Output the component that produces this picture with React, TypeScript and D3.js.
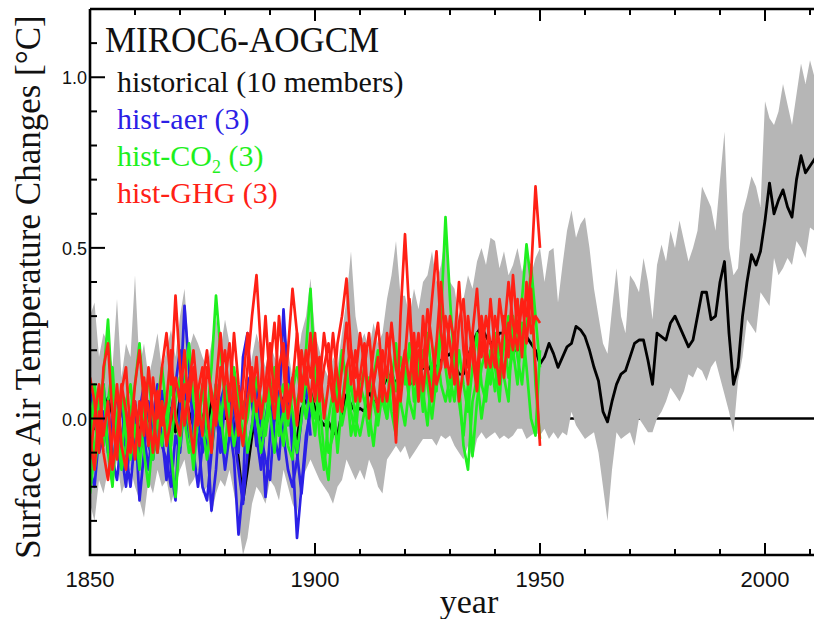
import React from 'react';
import * as d3 from 'd3';

// historical ensemble mean, 1850-2014
const histStart = 1850;
const histMean = [
  0.02, -0.03, 0.05, 0.00, 0.06, 0.01, -0.04, 0.03, 0.00, -0.02,
  0.04, -0.05, 0.02, 0.00, -0.03, 0.05, 0.01, -0.02, 0.03, -0.04,
  0.06, 0.08, 0.02, -0.02, 0.04, 0.00, -0.03, 0.05, 0.07, 0.02,
  0.00, 0.04, -0.02, -0.12, -0.24, -0.15, -0.05, 0.02, 0.00, -0.03,
  0.04, 0.01, -0.02, 0.06, 0.02, -0.04, -0.06, 0.03, 0.05, 0.08,
  0.03, 0.00, -0.02, -0.01, -0.04, -0.05, 0.02, 0.07, 0.04, 0.02,
  0.03, 0.02, 0.08, 0.05, 0.05, 0.09, 0.12, 0.13, 0.10, 0.12,
  0.12, 0.10, 0.11, 0.13, 0.15, 0.14, 0.16, 0.15, 0.17, 0.18,
  0.19, 0.16, 0.13, 0.13, 0.18, 0.22, 0.25, 0.27, 0.24, 0.22,
  0.23, 0.25, 0.25, 0.22, 0.20, 0.20, 0.22, 0.24, 0.22, 0.20,
  0.16, 0.18, 0.22, 0.19, 0.15, 0.18, 0.21, 0.22, 0.27, 0.26,
  0.24, 0.20, 0.15, 0.11, 0.02, -0.01, 0.05, 0.10, 0.13, 0.14,
  0.18, 0.22, 0.23, 0.23, 0.17, 0.10, 0.25, 0.24, 0.23, 0.28,
  0.30, 0.27, 0.24, 0.21, 0.23, 0.30, 0.37, 0.37, 0.29, 0.30,
  0.40, 0.46, 0.25, 0.10, 0.15, 0.30, 0.40, 0.48, 0.45, 0.49,
  0.58, 0.69, 0.60, 0.64, 0.67, 0.62, 0.59, 0.70, 0.77, 0.72,
  0.74, 0.76, 0.78, 0.80, 0.82,
];
// member spread (max / min)
const histMax = [
  0.30, 0.34, 0.18, 0.25, 0.22, 0.15, 0.35, 0.12, 0.22, 0.18,
  0.42, 0.15, 0.22, 0.12, 0.18, 0.25, 0.14, 0.20, 0.26, 0.18,
  0.30, 0.38, 0.20, 0.25, 0.22, 0.18, 0.15, 0.22, 0.30, 0.20,
  0.29, 0.22, 0.15, 0.10, 0.02, 0.10, 0.18, 0.25, 0.20, 0.15,
  0.22, 0.18, 0.15, 0.28, 0.20, 0.12, 0.15, 0.25, 0.30, 0.41,
  0.25, 0.20, 0.15, 0.12, 0.18, 0.15, 0.25, 0.35, 0.49, 0.30,
  0.22, 0.25, 0.20, 0.28, 0.22, 0.25, 0.35, 0.42, 0.52, 0.36,
  0.36, 0.30, 0.38, 0.32, 0.40, 0.42, 0.49, 0.40, 0.45, 0.54,
  0.40, 0.38, 0.30, 0.35, 0.42, 0.38, 0.46, 0.50, 0.45, 0.53,
  0.52, 0.44, 0.49, 0.42, 0.45, 0.50, 0.43, 0.48, 0.42, 0.47,
  0.50, 0.40, 0.49, 0.50, 0.34, 0.45, 0.55, 0.61, 0.53, 0.57,
  0.59, 0.50, 0.38, 0.30, 0.22, 0.19, 0.32, 0.44, 0.30, 0.25,
  0.42, 0.40, 0.37, 0.47, 0.40, 0.29, 0.45, 0.51, 0.46, 0.55,
  0.50, 0.58, 0.52, 0.46, 0.50, 0.55, 0.68, 0.65, 0.62, 0.55,
  0.70, 0.84, 0.50, 0.42, 0.44, 0.60, 0.65, 0.71, 0.68, 0.62,
  0.93, 0.88, 0.86, 0.90, 0.98, 0.92, 0.86, 0.95, 1.04, 0.98,
  1.05, 1.00, 1.03, 1.06, 1.08,
];
const histMin = [
  -0.25, -0.30, -0.18, -0.22, -0.15, -0.20, -0.12, -0.22, -0.18, -0.15,
  -0.20, -0.24, -0.29, -0.18, -0.22, -0.15, -0.20, -0.18, -0.25, -0.20,
  -0.15, -0.12, -0.20, -0.18, -0.15, -0.22, -0.20, -0.28, -0.22, -0.18,
  -0.20, -0.15, -0.22, -0.30, -0.40, -0.35, -0.25, -0.20, -0.22, -0.25,
  -0.18, -0.20, -0.24, -0.15, -0.20, -0.25, -0.28, -0.18, -0.15, -0.12,
  -0.15, -0.18, -0.20, -0.22, -0.25, -0.20, -0.18, -0.12, -0.15, -0.18,
  -0.15, -0.18, -0.12, -0.15, -0.20, -0.22, -0.12, -0.10, -0.08, -0.10,
  -0.08, -0.12, -0.10, -0.08, -0.06, -0.06, -0.06, -0.08, -0.05, -0.06,
  -0.05, -0.08, -0.10, -0.12, -0.08, -0.12, -0.06, -0.04, -0.06, -0.05,
  -0.04, -0.06, -0.05, -0.06, -0.05, -0.03, -0.03, -0.06, -0.05, -0.04,
  -0.05, -0.03, -0.06, -0.04, -0.06, -0.04, -0.05, 0.02, -0.02, -0.04,
  -0.06, -0.05, -0.04, -0.10, -0.20, -0.30, -0.15, -0.04, -0.06, -0.05,
  -0.04, -0.08, 0.00, -0.02, -0.04, -0.04, 0.00, 0.02, 0.05, 0.09,
  0.07, 0.05, 0.08, 0.13, 0.12, 0.15, 0.14, 0.11, 0.15, 0.17,
  0.12, 0.07, 0.02, -0.04, 0.11, 0.18, 0.29, 0.27, 0.25, 0.37,
  0.35, 0.33, 0.47, 0.42, 0.44, 0.47, 0.45, 0.52, 0.50, 0.47,
  0.56, 0.55, 0.58, 0.60, 0.62,
];

// single-forcing members, all start in 1850
const aerMembers = [
  [0.08, 0.02, -0.10, -0.05, 0.05, -0.12, -0.18, -0.05, 0.02, -0.08,
   0.00, -0.24, -0.10, 0.05, -0.02, -0.10, 0.08, 0.02, -0.15, -0.24,
   0.05, 0.33, 0.15, -0.05, 0.00, -0.10, -0.05, -0.27, -0.15, 0.05,
   0.10, -0.02, -0.12, -0.34, -0.20, 0.12, 0.05, -0.08, 0.00, -0.23,
   -0.05, 0.10, 0.02, 0.32, 0.10, -0.10, -0.35, -0.20, -0.05, 0.02],
  [-0.05, -0.12, 0.02, 0.10, -0.08, -0.15, -0.02, 0.05, -0.10, -0.20,
   -0.05, 0.02, 0.10, -0.08, -0.12, 0.00, -0.05, -0.18, 0.02, 0.10,
   0.20, 0.05, -0.05, -0.10, -0.20, -0.08, 0.02, -0.05, 0.10, -0.02,
   -0.15, -0.05, 0.05, -0.10, 0.18, 0.25, 0.05, -0.05, -0.15, 0.00,
   0.08, -0.05, -0.12, 0.05, 0.15, -0.05, -0.10, -0.22, -0.08, 0.05],
  [-0.15, -0.20, -0.05, 0.02, -0.10, 0.00, 0.08, -0.10, -0.20, -0.05,
   0.05, -0.10, -0.05, -0.15, 0.00, 0.10, -0.08, -0.12, -0.20, -0.05,
   -0.10, 0.05, 0.12, 0.00, -0.05, -0.20, -0.24, -0.10, 0.02, -0.10,
   0.05, 0.10, -0.05, -0.15, -0.25, -0.10, -0.02, 0.10, -0.05, -0.12,
   -0.18, 0.00, 0.08, -0.05, -0.15, -0.20, -0.12, 0.00, 0.10, -0.05],
];
const co2Members = [
  [-0.22, -0.10, 0.05, 0.12, 0.29, 0.05, -0.05, -0.15, -0.08, 0.02,
   0.10, 0.22, 0.05, -0.05, -0.12, 0.00, -0.08, 0.05, -0.10, -0.23,
   -0.05, 0.10, 0.22, 0.05, -0.02, 0.08, 0.00, 0.15, 0.36, 0.20,
   0.05, -0.05, 0.10, 0.02, -0.08, 0.05, 0.12, 0.00, -0.05, 0.08,
   0.02, -0.10, 0.05, 0.10, -0.02, 0.08, 0.15, 0.05, 0.20, 0.38,
   0.12, -0.05, -0.15, 0.00, 0.08, -0.10, 0.05, 0.15, 0.02, -0.05,
   0.10, 0.05, -0.05, 0.12, 0.20, 0.05, 0.00, 0.15, 0.08, 0.18,
   0.10, 0.22, 0.05, 0.15, 0.02, 0.25, 0.12, 0.08, 0.30, 0.59,
   0.35, 0.15, 0.05, -0.05, 0.10, -0.11, 0.05, 0.15, 0.20, 0.10,
   0.25, 0.15, 0.22, 0.30, 0.18, 0.25, 0.35, 0.51, 0.40, 0.10,
   -0.06],
  [0.05, -0.15, -0.05, 0.10, -0.10, -0.20, 0.00, 0.08, -0.05, -0.12,
   -0.02, -0.15, 0.05, 0.12, 0.00, -0.10, 0.05, -0.05, 0.10, 0.02,
   -0.08, 0.05, -0.02, -0.15, 0.00, 0.10, -0.05, -0.10, 0.05, -0.02,
   0.10, 0.02, -0.08, 0.00, 0.05, -0.10, -0.02, 0.12, 0.05, -0.05,
   0.05, 0.15, 0.00, -0.08, 0.10, 0.02, -0.10, 0.00, 0.12, 0.05,
   -0.05, 0.10, 0.05, -0.10, -0.05, 0.08, 0.20, 0.10, -0.05, 0.02,
   0.08, 0.15, 0.02, -0.08, 0.05, 0.12, 0.00, 0.10, 0.22, 0.05,
   -0.02, 0.10, 0.15, 0.05, 0.20, 0.10, 0.00, 0.12, 0.25, 0.15,
   0.05, 0.18, 0.10, -0.08, -0.15, 0.05, 0.12, 0.00, 0.10, 0.20,
   0.15, 0.05, 0.25, 0.12, 0.20, 0.10, 0.28, 0.15, 0.00, -0.05,
   0.20],
  [-0.15, 0.10, 0.00, -0.08, 0.05, 0.15, -0.05, -0.12, 0.05, 0.10,
   -0.05, 0.02, -0.10, -0.20, -0.05, 0.05, 0.15, 0.02, -0.08, 0.05,
   0.12, 0.00, -0.10, -0.05, 0.08, -0.02, -0.12, 0.00, 0.10, 0.02,
   -0.10, 0.08, 0.15, 0.05, -0.05, 0.00, 0.10, 0.02, -0.10, -0.02,
   0.10, 0.05, -0.05, 0.02, -0.08, -0.12, 0.05, 0.10, 0.00, 0.08,
   0.00, 0.05, -0.10, -0.18, 0.02, 0.12, -0.02, 0.05, 0.10, 0.00,
   -0.05, 0.02, 0.12, 0.05, -0.02, 0.08, 0.15, 0.02, -0.05, 0.10,
   0.15, 0.05, 0.00, 0.18, 0.08, -0.02, 0.15, 0.22, 0.10, 0.05,
   0.12, 0.05, 0.20, 0.10, 0.02, 0.15, 0.25, 0.10, 0.05, 0.18,
   0.08, 0.22, 0.12, 0.05, 0.30, 0.18, 0.10, 0.25, 0.45, 0.30,
   0.15],
];
const ghgMembers = [
  [0.12, 0.05, -0.10, 0.15, 0.22, 0.00, -0.12, 0.08, 0.15, -0.05,
   0.10, 0.20, 0.05, -0.08, 0.12, 0.00, 0.15, 0.25, 0.10, 0.36,
   0.15, -0.02, 0.10, 0.20, 0.05, -0.05, 0.15, 0.08, -0.02, 0.12,
   0.20, 0.05, 0.25, 0.10, 0.00, 0.15, 0.30, 0.42, 0.20, 0.05,
   0.15, 0.28, 0.10, 0.02, 0.20, 0.38, 0.25, 0.10, 0.15, 0.05,
   0.20, 0.10, 0.25, 0.15, 0.05, 0.22, 0.30, 0.41, 0.20, 0.12,
   0.25, 0.15, 0.08, 0.20, 0.28, 0.12, 0.05, 0.15, -0.07, 0.30,
   0.54, 0.30, 0.15, 0.25, 0.08, 0.20, 0.35, 0.49, 0.25, 0.15,
   0.30, 0.22, 0.40, 0.20, 0.10, 0.25, 0.38, 0.18, 0.30, 0.22,
   0.15, 0.35, 0.25, 0.40, 0.28, 0.20, 0.35, 0.30, 0.42, 0.68,
   0.50],
  [-0.05, -0.15, 0.02, -0.10, -0.18, -0.05, 0.10, -0.08, -0.15, 0.00,
   -0.12, 0.05, -0.05, 0.15, 0.02, -0.10, 0.05, -0.08, 0.00, 0.12,
   0.05, 0.20, 0.00, -0.10, 0.08, 0.15, 0.02, -0.10, 0.10, 0.25,
   0.05, -0.05, 0.12, 0.00, -0.08, 0.05, 0.15, 0.02, 0.10, 0.30,
   0.10, 0.00, 0.15, 0.22, 0.05, 0.12, -0.02, 0.20, 0.10, 0.25,
   0.05, 0.18, 0.00, 0.10, 0.25, 0.12, 0.02, 0.15, 0.20, 0.05,
   0.12, 0.22, 0.00, 0.10, 0.18, 0.05, 0.25, 0.15, 0.02, 0.12,
   0.20, 0.10, 0.25, 0.05, 0.30, 0.15, 0.05, 0.22, 0.40, 0.20,
   0.12, 0.25, 0.05, 0.15, 0.30, 0.18, 0.08, 0.28, 0.15, 0.35,
   0.20, 0.10, 0.30, 0.18, 0.42, 0.25, 0.35, 0.22, 0.38, 0.15,
   -0.08],
  [-0.12, 0.00, 0.10, -0.05, 0.05, -0.15, -0.05, 0.10, 0.02, -0.10,
   0.05, -0.08, 0.12, 0.02, -0.10, 0.08, -0.02, 0.05, 0.20, 0.00,
   -0.05, 0.10, 0.05, 0.15, -0.02, 0.10, 0.20, 0.05, 0.00, 0.15,
   0.10, 0.22, 0.05, -0.05, 0.10, 0.25, 0.05, 0.18, 0.00, 0.10,
   0.22, 0.05, 0.30, 0.15, 0.00, 0.10, 0.25, 0.05, 0.20, 0.12,
   0.25, 0.05, 0.15, 0.22, 0.10, 0.02, 0.15, 0.28, 0.10, 0.20,
   0.05, 0.15, 0.25, 0.10, 0.02, 0.20, 0.12, 0.28, 0.15, 0.05,
   0.18, 0.35, 0.10, 0.20, 0.15, 0.32, 0.22, 0.10, 0.15, 0.30,
   0.22, 0.10, 0.28, 0.35, 0.15, 0.25, 0.12, 0.30, 0.20, 0.15,
   0.30, 0.22, 0.12, 0.28, 0.20, 0.35, 0.18, 0.40, 0.25, 0.30,
   0.28],
];

const xMajor = [1850, 1900, 1950, 2000];
const yMajor = [0.0, 0.5, 1.0];

const BLUE = '#2b20e6';
const GREEN = '#1ef01e';
const RED = '#ff2015';
const GREY = '#b6b6b6';

const W = 814, H = 619;
const left = 90, top = 9, bottom = 555, right = 828;

const App = () => {
  const x = d3.scaleLinear().domain([1850, 2014]).range([left, right]);
  const y = d3.scaleLinear().domain([-0.4, 1.2]).range([bottom, top]);

  const line = d3.line<number>()
    .x((d, i) => x(histStart + i))
    .y(d => y(d));
  const band = d3.area<number>()
    .x((d, i) => x(histStart + i))
    .y0((d, i) => y(histMin[i]))
    .y1(d => y(d));

  const xMinor = d3.range(1850, 2015, 10);
  const yMinor = d3.range(-4, 13).map(v => v / 10);

  return (
    <svg width={W} height={H} style={{ position: 'absolute', left: 0, top: 0, background: '#fff' }}>
      <defs>
        <clipPath id="plot"><rect x={left} y={top} width={right - left} height={bottom - top} /></clipPath>
      </defs>
      <g clipPath="url(#plot)">
        <line x1={left} x2={right} y1={y(0)} y2={y(0)} stroke="#000" strokeWidth={2.5} />
        <path d={band(histMax) || ''} fill={GREY} />
        <path d={line(histMean) || ''} fill="none" stroke="#000" strokeWidth={2.8} strokeLinejoin="round" />
        {aerMembers.map((m, i) => <path key={'a' + i} d={line(m) || ''} fill="none" stroke={BLUE} strokeWidth={2.7} strokeLinejoin="round" />)}
        {co2Members.map((m, i) => <path key={'c' + i} d={line(m) || ''} fill="none" stroke={GREEN} strokeWidth={2.7} strokeLinejoin="round" />)}
        {ghgMembers.map((m, i) => <path key={'g' + i} d={line(m) || ''} fill="none" stroke={RED} strokeWidth={2.7} strokeLinejoin="round" />)}
      </g>

      {/* frame */}
      <path d={`M${left},${top}H${right}M${left},${top}V${bottom}H${right}`} fill="none" stroke="#000" strokeWidth={2.6} />
      {xMinor.map(v => {
        const len = xMajor.includes(v) ? 12 : 6;
        return <g key={'xt' + v}>
          <line x1={x(v)} x2={x(v)} y1={bottom} y2={bottom - len} stroke="#000" strokeWidth={2} />
          <line x1={x(v)} x2={x(v)} y1={top} y2={top + len} stroke="#000" strokeWidth={2} />
        </g>;
      })}
      {yMinor.map(v => {
        const len = yMajor.some(m => Math.abs(m - v) < 1e-6) ? 15 : 7;
        return <line key={'yt' + v} x1={left} x2={left + len} y1={y(v)} y2={y(v)} stroke="#000" strokeWidth={2} />;
      })}
      <g fontFamily="'Liberation Sans', Arial, sans-serif" fill="#111">
        {xMajor.map(v => <text key={'xl' + v} x={x(v)} y={587} fontSize={22} textAnchor="middle">{v}</text>)}
        {yMajor.map(v => <text key={'yl' + v} x={87} y={y(v) + 7} fontSize={18} textAnchor="end">{v.toFixed(1)}</text>)}
      </g>

      <g fontFamily="'Liberation Serif', 'Times New Roman', serif">
        <text transform="translate(40,287) rotate(-90)" fontSize={35} textAnchor="middle" fill="#111">Surface Air Temperature Changes [°C]</text>
        <text x={469} y={613} fontSize={34} textAnchor="middle" fill="#111">year</text>
        <text x={105} y={52} fontSize={35} fill="#111">MIROC6-AOGCM</text>
        <text x={117} y={92} fontSize={30} fill="#111">historical (10 members)</text>
        <text x={117} y={129} fontSize={30} fill={BLUE}>hist-aer (3)</text>
        <text x={117} y={166} fontSize={30} fill={GREEN}>hist-CO<tspan fontSize={18} dy={7}>2</tspan><tspan dy={-7}> (3)</tspan></text>
        <text x={117} y={203} fontSize={30} fill={RED}>hist-GHG (3)</text>
      </g>
    </svg>
  );
};

export default App;
